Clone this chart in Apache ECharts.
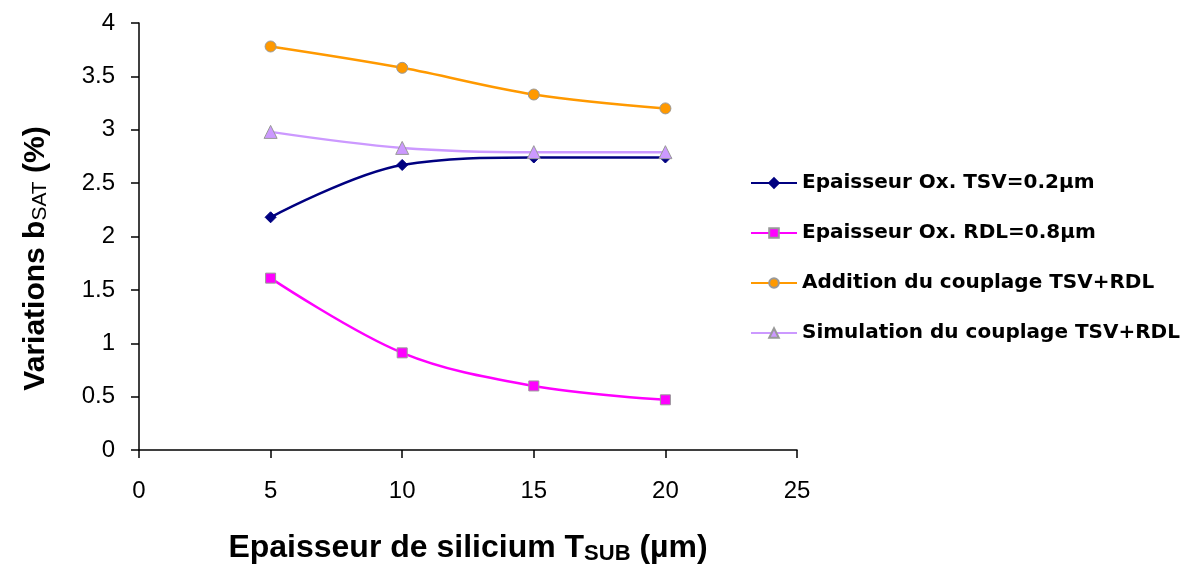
<!DOCTYPE html>
<html>
<head>
<meta charset="utf-8">
<script src="https://cdn.jsdelivr.net/npm/echarts@6/dist/echarts.min.js"></script>
<style>
  html, body { margin: 0; padding: 0; background: #fff; }
  #main { width: 1203px; height: 574px; }
</style>
</head>
<body>
<div id="main"></div>
<script>
// epaisseur du substrat (µm)
const tsub = [5, 10, 15, 20];
const seriesNames = [
  'Epaisseur Ox. TSV=0.2µm',
  'Epaisseur Ox. RDL=0.8µm',
  'Addition du couplage TSV+RDL',
  'Simulation du couplage TSV+RDL'
];
const oxTsv = [2.18, 2.67, 2.74, 2.74];
const oxRdl = [1.61, 0.91, 0.60, 0.47];
const additionCouplage = [3.78, 3.58, 3.33, 3.20];
const simulationCouplage = [2.98, 2.83, 2.79, 2.79];

const colors = ['#000080', '#ff00ff', '#ff9900', '#cc99ff'];
const symbols = ['diamond', 'rect', 'circle', 'triangle'];
const symbolSizes = [11, 10, 11, 13];
const allData = [oxTsv, oxRdl, additionCouplage, simulationCouplage];

const pair = (ys) => tsub.map((x, i) => [x, ys[i]]);
const ff = 'Liberation Sans, Arial, sans-serif';

let myChart = echarts.init(document.getElementById('main'));

let option = {
  backgroundColor: '#fff',
  textStyle: { fontFamily: ff, color: '#000' },
  grid: { left: 139, top: 23, right: 406, bottom: 124, containLabel: false, outerBoundsMode: 'none' },
  legend: {
    orient: 'vertical',
    left: 745,
    top: 168,
    itemGap: 30,
    itemWidth: 46,
    itemHeight: 12,
    data: seriesNames,
    textStyle: { fontSize: 20, fontWeight: 'bold', color: '#000', fontFamily: 'DejaVu Sans, sans-serif' }
  },
  xAxis: {
    type: 'value',
    min: 0,
    max: 25,
    interval: 5,
    name: '{n|Epaisseur de silicium T}{s|SUB}{n| (µm)}',
    nameLocation: 'middle',
    nameGap: 81,
    nameTextStyle: {
      rich: {
        n: { fontSize: 32, fontWeight: 'bold', color: '#000', fontFamily: ff },
        s: { fontSize: 22, fontWeight: 'bold', color: '#000', padding: [12, 0, 0, 0], fontFamily: ff }
      }
    },
    axisLine: { onZero: false, lineStyle: { color: '#000', width: 1.5 } },
    axisTick: { show: true, inside: false, length: 8, lineStyle: { color: '#000', width: 1.5 } },
    axisLabel: { fontSize: 24, color: '#000', margin: 29 },
    splitLine: { show: false }
  },
  yAxis: {
    type: 'value',
    min: 0,
    max: 4,
    interval: 0.5,
    name: '{n|Variations b}{s|SAT}{n| (%)}',
    nameLocation: 'middle',
    nameGap: 88,
    nameRotate: 90,
    nameTextStyle: {
      padding: [0, 44, 0, 0],
      rich: {
        n: { fontSize: 30, fontWeight: 'bold', color: '#000', fontFamily: ff },
        s: { fontSize: 21, color: '#000', padding: [9, 0, 0, 0], fontFamily: ff }
      }
    },
    axisLine: { show: true, lineStyle: { color: '#000', width: 1.5 } },
    axisTick: { show: true, inside: false, length: 8, lineStyle: { color: '#000', width: 1.5 } },
    axisLabel: { fontSize: 24, color: '#000', margin: 24 },
    splitLine: { show: false }
  },
  series: seriesNames.map((name, k) => ({
    name: name,
    type: 'line',
    smooth: 0.35,
    data: pair(allData[k]),
    symbol: symbols[k],
    symbolSize: symbolSizes[k],
    showSymbol: true,
    color: colors[k],
    lineStyle: { color: colors[k], width: 2.5 },
    itemStyle: {
      color: colors[k],
      borderColor: k === 0 ? colors[k] : '#999999',
      borderWidth: 1
    },
    emphasis: { disabled: true },
    animation: false
  }))
};

myChart.setOption(option);
window.onresize = function () {
  myChart.resize();
};
</script>
</body>
</html>
